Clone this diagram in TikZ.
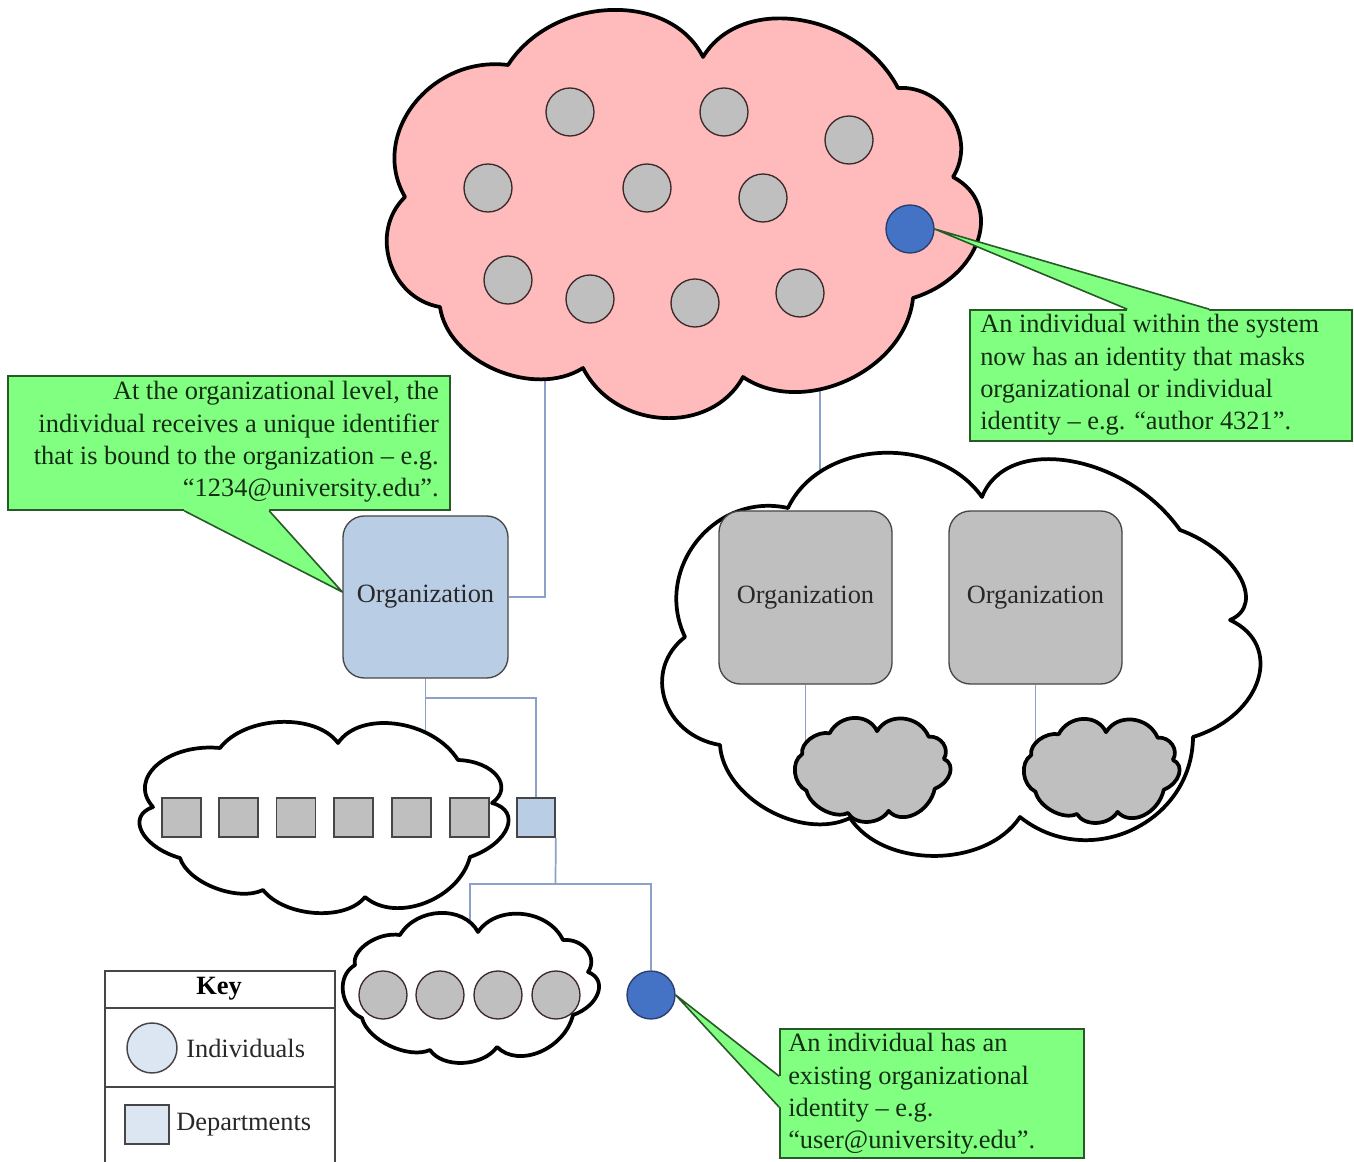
\documentclass[tikz,border=0pt]{standalone}
\usepackage{fontspec}
\setmainfont{Liberation Serif}
\usetikzlibrary{calc}
\pgfdeclarelayer{back}
\pgfdeclarelayer{cloudl}
\pgfdeclarelayer{mid}
\pgfsetlayers{back,cloudl,mid,main}
\definecolor{pinkc}{RGB}{255,187,187}
\definecolor{grayc}{RGB}{191,191,191}
\definecolor{bluec}{RGB}{68,114,196}
\definecolor{bluedk}{RGB}{40,60,110}
\definecolor{orgblue}{RGB}{185,205,229}
\definecolor{greenc}{RGB}{128,255,128}
\definecolor{greendk}{RGB}{40,90,40}
\definecolor{connc}{RGB}{140,160,200}
\definecolor{keyfill}{RGB}{220,230,242}
\definecolor{outl}{RGB}{70,70,70}
\definecolor{indout}{RGB}{60,40,40}
\definecolor{txtg}{RGB}{20,45,20}
\definecolor{orgtxt}{RGB}{40,40,40}
\definecolor{keyc}{RGB}{70,70,70}
\newcommand\txtfont{\fontsize{19.8}{24.2}\selectfont}
\newcommand\bump[3]{.. controls ($0.1333*(#1)+1.3333*(#2)-0.4667*(#3)$) and ($0.1333*(#3)+1.3333*(#2)-0.4667*(#1)$) .. (#3)}
\newcommand\smallcloudpath{(400,935) \bump{400,935}{440,913}{478,932} \bump{478,932}{522,914}{563,940} \bump{563,940}{587,950}{588,972} \bump{588,972}{598,993}{573,1015} \bump{573,1015}{540,1052}{497,1047} \bump{497,1047}{463,1063}{430,1050} \bump{430,1050}{390,1046}{362,1018} \bump{362,1018}{343,992}{355,965} \bump{355,965}{368,943}{400,935} -- cycle}
\begin{document}
\begin{tikzpicture}[x=0.75pt,y=-0.75pt,
  cloudline/.style={draw=black,line width=2.8pt,line join=round},
  conn/.style={draw=connc,line width=1.3pt},
  indiv/.style={circle,draw=indout,fill=grayc,line width=1pt,minimum size=36pt,inner sep=0pt},
  bluedot/.style={indiv,fill=bluec,draw=bluedk},
  dept/.style={rectangle,draw=outl,fill=grayc,line width=1.2pt,minimum width=29.25pt,minimum height=29.25pt,inner sep=0pt},
  orgbox/.style={rectangle,rounded corners=16pt,draw=outl,line width=1pt,inner sep=0pt,font=\txtfont,text=orgtxt},
  cbox/.style={rectangle,draw=greendk,fill=greenc,line width=1.2pt,inner sep=0pt},
  ctext/.style={inner sep=0pt,font=\txtfont,text=txtg},
  cline/.style={draw=greendk,line width=1.2pt,line join=round},
  keyline/.style={draw=keyc,line width=1.5pt},
  keytext/.style={inner sep=0pt,font=\txtfont,text=orgtxt}
]
\useasboundingbox (0,0) rectangle (1354,1162);
\begin{pgfonlayer}{back}
\fill[white] (0,0) rectangle (1354,1162);
\end{pgfonlayer}

% ---------- organization boxes ----------
\node[orgbox,fill=orgblue,minimum width=123.75pt,minimum height=121.5pt] (orgL) at (425.5,597) {Organization};
\node[orgbox,fill=grayc,minimum width=129.75pt,minimum height=129.75pt] (orgA) at (805.5,597.5) {Organization};
\node[orgbox,fill=grayc,minimum width=129.75pt,minimum height=129.75pt] (orgB) at (1035.5,597.5) {Organization};

% ---------- individuals in the pink cloud ----------
\foreach \n/\x/\y in {p1/570/112,p2/724/112,p3/849/140,p4/488/188,p5/647/188,p6/763/198,p7/508/280,p8/590/299,p9/695/303,p10/800/293}
  \node[indiv] (\n) at (\x,\y) {};
\node[bluedot] (blueT) at (910,229) {};

% ---------- departments ----------
\foreach \n/\x in {d1/181.5,d2/238.5,d3/296,d4/353.5,d5/411.5,d6/469.5}
  \node[dept] (\n) at (\x,817.5) {};
\node[dept,fill=orgblue,minimum width=28.5pt] (deptB) at (536,817.5) {};

% ---------- individuals in the department ----------
\foreach \n/\x in {b1/383,b2/440,b3/498,b4/556}
  \node[indiv] (\n) at (\x,995) {};
\node[bluedot] (blueB) at (651,995) {};

% ---------- connectors ----------
\begin{pgfonlayer}{back}
\coordinate (pinkin1) at (545,330);
\coordinate (pinkin2) at (820,330);
\coordinate (whitein) at (820,540);
\coordinate (leftin) at (425.5,770);
\coordinate (botin) at (470,950);
\coordinate (j2) at (555.5,884);
\draw[conn] (pinkin1) |- (orgL.east);
\draw[conn] (pinkin2) -- (whitein);
\draw[conn] (orgL.south) -- (leftin);
\draw[conn] (botin) |- (blueB.north |- j2) -- (blueB.north);
\end{pgfonlayer}
\begin{pgfonlayer}{mid}
\draw[conn] ($(orgL.south)+(0,19)$) -| (deptB.north);
\draw[conn] (deptB.south east) -- (j2);
\draw[conn] (orgA.south) -- ++(0,60);
\draw[conn] (orgB.south) -- ++(0,60);
\end{pgfonlayer}

% ---------- clouds ----------
\begin{pgfonlayer}{cloudl}
\draw[cloudline,fill=pinkc] (405,197) \bump{405,197}{414,104}{508,65} \bump{508,65}{610,10}{703,57} \bump{703,57}{800,20}{898,88} \bump{898,88}{952,117}{953,177} \bump{953,177}{978,240}{913,298} \bump{913,298}{848,380}{743,377} \bump{743,377}{663,418}{583,368} \bump{583,368}{496,370}{440,307} \bump{440,307}{390,262}{405,197} -- cycle;
\draw[cloudline,fill=white] (788,508) \bump{788,508}{880,453}{982,497} \bump{982,497}{1070,461}{1180,530} \bump{1180,530}{1240,577}{1230,620} \bump{1230,620}{1258,680}{1193,737} \bump{1193,737}{1132,830}{1020,817} \bump{1020,817}{935,856}{850,818} \bump{850,818}{768,810}{720,745} \bump{720,745}{665,700}{685,637} \bump{685,637}{697,541}{788,508} -- cycle;
\draw[cloudline,fill=white] (220,748) \bump{220,748}{280,722}{338,743} \bump{338,743}{397,724}{458,760} \bump{458,760}{497,776}{492,803} \bump{492,803}{507,828}{470,857} \bump{470,857}{425,903}{365,897} \bump{365,897}{315,913}{263,890} \bump{263,890}{215,888}{180,858} \bump{180,858}{142,832}{153,807} \bump{153,807}{157,765}{220,748} -- cycle;
\draw[cloudline,fill=white] \smallcloudpath;
\end{pgfonlayer}

% gray clouds of the other organizations
\begin{scope}[shift={(586.5,85)},xscale=0.6078,yscale=0.6933]
\draw[cloudline,fill=grayc] \smallcloudpath;
\end{scope}
\begin{scope}[shift={(815.5,86)},xscale=0.6078,yscale=0.6933]
\draw[cloudline,fill=grayc] \smallcloudpath;
\end{scope}

% ---------- callouts ----------
\node[cbox,minimum width=331.5pt,minimum height=100.5pt] (cbL) at (229,443) {};
\fill[greenc] ($(cbL.south west)+(177,-3)$) -- ($(cbL.south west)+(177,0)$) -- ($(orgL.west)+(0,-5)$) -- ($(cbL.south west)+(262,0)$) -- ($(cbL.south west)+(262,-3)$) -- cycle;
\draw[cline] ($(cbL.south west)+(177,0)$) -- ($(orgL.west)+(0,-5)$) -- ($(cbL.south west)+(262,0)$);
\node[ctext,anchor=east,align=right] (tL) at (439,442) {At the organizational level, the\\individual receives a unique identifier\\that is bound to the organization – e.g.\\“1234@university.edu”.};

\node[cbox,minimum width=286.5pt,minimum height=98.25pt] (cbR) at (1161,375.5) {};
\fill[greenc] ($(cbR.north west)+(158,3)$) -- ($(cbR.north west)+(158,0)$) -- (blueT.east) -- ($(cbR.north west)+(240,0)$) -- ($(cbR.north west)+(240,3)$) -- cycle;
\draw[cline] ($(cbR.north west)+(158,0)$) -- (blueT.east) -- ($(cbR.north west)+(240,0)$);
\node[ctext,anchor=west,align=left] (tR) at (980,375) {An individual within the system\\now has an identity that masks\\organizational or individual\\identity – e.g. “author 4321”.};

\node[cbox,minimum width=228pt,minimum height=96.75pt] (cbB) at (932,1093.5) {};
\fill[greenc] ($(cbB.north west)+(3,48)$) -- ($(cbB.north west)+(0,48)$) -- (blueB.east) -- ($(cbB.north west)+(0,79)$) -- ($(cbB.north west)+(3,79)$) -- cycle;
\draw[cline] ($(cbB.north west)+(0,48)$) -- (blueB.east) -- ($(cbB.north west)+(0,79)$);
\node[ctext,anchor=west,align=left] (tB) at (788,1094) {An individual has an\\existing organizational\\identity – e.g.\\“user@university.edu”.};

% ---------- key ----------
\node[draw=keyc,line width=1.5pt,fill=white,minimum width=172.5pt,minimum height=150pt,anchor=north west,inner sep=0pt] (keyT) at (104,970) {};
\draw[keyline] ($(keyT.north west)+(0,38)$) -- ($(keyT.north east)+(0,38)$);
\draw[keyline] ($(keyT.north west)+(0,117)$) -- ($(keyT.north east)+(0,117)$);
\node[keytext,font=\txtfont\bfseries,text=black] (keyH) at (219,989) {Key};
\node[circle,draw=outl,fill=keyfill,line width=1.1pt,minimum size=37.5pt,inner sep=0pt] (keyC) at (152,1048) {};
\node[keytext,anchor=west] (keyCt) at (186,1048) {Individuals};
\node[rectangle,draw=outl,fill=keyfill,line width=1.2pt,minimum width=33pt,minimum height=29.5pt,inner sep=0pt] (keyS) at (147,1124.5) {};
\node[keytext,anchor=west] (keySt) at (176,1125) {Departments};
\end{tikzpicture}
\end{document}
